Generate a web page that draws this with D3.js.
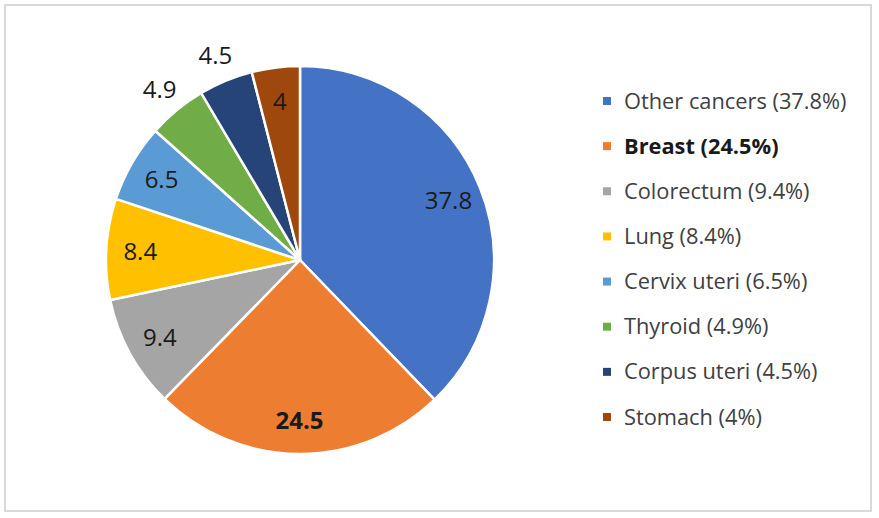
<!DOCTYPE html>
<html>
<head>
<meta charset="utf-8">
<script src="https://cdn.jsdelivr.net/npm/d3@7"></script>
<style>
  body { margin: 0; background: #fff; }
  text { font-family: "Open Sans", "Noto Sans", sans-serif; fill: #262626; }
</style>
</head>
<body>
<div id="chart"></div>
<script>
// data (percent of new cases)
const categories = ['Other cancers', 'Breast', 'Colorectum', 'Lung', 'Cervix uteri', 'Thyroid', 'Corpus uteri', 'Stomach'];
const values = [37.8, 24.5, 9.4, 8.4, 6.5, 4.9, 4.5, 4];
const colors = ['#4472C4', '#ED7D31', '#A5A5A5', '#FFC000', '#5B9BD5', '#70AD47', '#264478', '#9E480E'];
const highlighted = 'Breast';
// labels too small to sit inside their slice
const outsideLabels = ['Thyroid', 'Corpus uteri'];

const width = 879, height = 518;
const cx = 300, cy = 260, radius = 194;

const data = categories.map((c, i) => ({name: c, value: values[i]}));

const svg = d3.select('#chart').append('svg')
  .attr('width', width)
  .attr('height', height);

// outer frame
svg.append('rect')
  .attr('x', 5).attr('y', 5)
  .attr('width', 866).attr('height', 506)
  .attr('fill', 'none')
  .attr('stroke', '#d9d9d9')
  .attr('stroke-width', 2);

const color = d3.scaleOrdinal().domain(categories).range(colors);

const pie = d3.pie().value(d => d.value).sort(null);
const arc = d3.arc().innerRadius(0).outerRadius(radius);
const inLabel = d3.arc().innerRadius(160).outerRadius(160);
const outLabel = d3.arc().innerRadius(221).outerRadius(221);

const g = svg.append('g').attr('transform', `translate(${cx},${cy})`);
const arcs = pie(data);

g.selectAll('path')
  .data(arcs)
  .join('path')
    .attr('d', arc)
    .attr('fill', d => color(d.data.name))
    .attr('stroke', '#fff')
    .attr('stroke-width', 2.5)
    .attr('stroke-linejoin', 'round');

g.selectAll('text.value')
  .data(arcs)
  .join('text')
    .attr('class', 'value')
    .attr('transform', d => {
      let a = outsideLabels.includes(d.data.name) ? outLabel : inLabel;
      return `translate(${a.centroid(d)})`;
    })
    .attr('text-anchor', 'middle')
    .attr('dy', '0.36em')
    .style('font-size', '24px')
    .style('font-weight', d => d.data.name === highlighted ? 'bold' : 'normal')
    .style('fill', '#1a1a1a')
    .text(d => d.data.value);

// legend
const legend = svg.append('g').attr('transform', 'translate(603,101)');
const rowY = d3.scalePoint().domain(categories).range([0, 316]);

const item = legend.selectAll('g')
  .data(data)
  .join('g')
    .attr('transform', d => `translate(0,${rowY(d.name)})`);

item.append('rect')
  .attr('x', 0).attr('y', -4)
  .attr('width', 8).attr('height', 8)
  .attr('fill', d => color(d.name));

item.append('text')
  .attr('x', 21)
  .attr('dy', '0.35em')
  .style('font-size', '21.8px')
  .style('font-weight', d => d.name === highlighted ? 'bold' : 'normal')
  .style('fill', d => d.name === highlighted ? '#1a1a1a' : '#404040')
  .text(d => `${d.name} (${d.value}%)`);
</script>
</body>
</html>
